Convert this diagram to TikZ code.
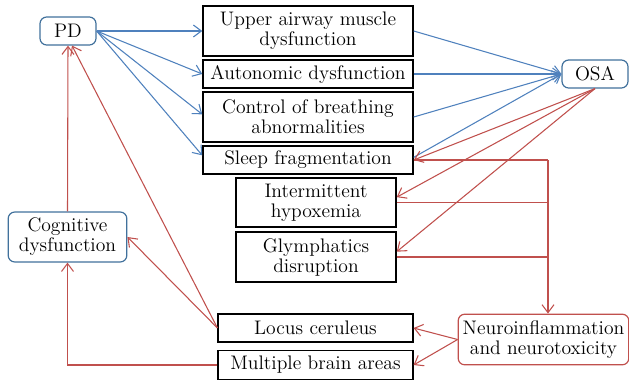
\documentclass[tikz,border=0pt]{standalone}
\usepackage{tikz}
\usetikzlibrary{arrows.meta}
\definecolor{linkblue}{HTML}{4F81BD}
\definecolor{linkred}{HTML}{C0504D}
\definecolor{edgeblue}{HTML}{41719C}

\begin{document}
\begin{tikzpicture}[
    x=0.75pt, y=-0.75pt,
    font=\fontsize{14.7}{15}\selectfont,
    box node/.style={rectangle, draw=black, line width=1.1pt, inner sep=0pt, align=center},
    round node/.style={rectangle, rounded corners=5pt, draw=edgeblue, line width=0.9pt, inner sep=0pt, align=center, fill=white},
    blue link/.style={draw=linkblue, line width=0.8pt, -{Straight Barb[length=6pt,width=9pt]}},
    red link/.style={draw=linkred, line width=0.8pt, -{Straight Barb[length=6pt,width=9pt]}},
    red line/.style={draw=linkred, line width=0.8pt}
  ]
  \useasboundingbox (0,0) rectangle (629,379);

  \node[round node, minimum width=42pt, minimum height=21pt] (pd) at (68,31) {PD};
  \node[round node, minimum width=49.5pt, minimum height=21pt] (osa) at (595,74) {OSA};
  \node[round node, minimum width=89pt, minimum height=37.5pt] (cog) at (67.5,237) {Cognitive\\dysfunction};
  \node[round node, draw=linkred, minimum width=128pt, minimum height=38pt] (neuro) at (543.5,339.5) {Neuroinflammation\\and neurotoxicity};

  \node[box node, minimum width=157.5pt, minimum height=37.5pt] (upper) at (308,31) {Upper airway muscle\\dysfunction};
  \node[box node, minimum width=157.5pt, minimum height=21pt] (auto) at (308,74) {Autonomic dysfunction};
  \node[box node, minimum width=157.5pt, minimum height=37.5pt] (ctrl) at (308,117) {Control of breathing\\abnormalities};
  \node[box node, minimum width=157.5pt, minimum height=21pt] (sleep) at (308,160) {Sleep fragmentation};
  \node[box node, minimum width=120pt, minimum height=37pt] (hypox) at (316,202.5) {Intermittent\\hypoxemia};
  \node[box node, minimum width=120pt, minimum height=37.5pt] (glymph) at (316,257) {Glymphatics\\disruption};
  \node[box node, minimum width=146pt, minimum height=21pt] (locus) at (315.5,328) {Locus ceruleus};
  \node[box node, minimum width=146pt, minimum height=21.5pt] (multi) at (315.5,365) {Multiple brain areas};

  \coordinate (trunk) at (548,160);

  \draw[blue link] (pd.east) -- (upper.west);
  \draw[blue link] (pd.east) -- (auto.west);
  \draw[blue link] (pd.east) -- ([yshift=2pt]ctrl.west);
  \draw[blue link] (pd.east) -- ([yshift=3.5pt]sleep.west);
  \draw[blue link] (upper.east) -- (osa.west);
  \draw[blue link] (auto.east) -- (osa.west);
  \draw[blue link] (ctrl.east) -- (osa.west);
  \draw[blue link] ([yshift=2pt]sleep.east) -- (osa.west);

  \draw[red link] (osa.south) -- (sleep.east);
  \draw[red link] (osa.south) -- ([yshift=4pt]hypox.east);
  \draw[red link] (osa.south) -- ([yshift=4pt]glymph.east);
  \draw[red line] (sleep.east) -- (trunk);
  \draw[red line] (hypox.east) -- (hypox.east -| trunk);
  \draw[red line] (glymph.east) -- (glymph.east -| trunk);
  \draw[red link] (trunk) -- (trunk |- neuro.north);

  \draw[red link] (neuro.west) -- (locus.east);
  \draw[red link] (neuro.west) -- (multi.east);
  \draw[red link] (locus.west) -- (cog.east);
  \draw[red link] (locus.west) -- ([xshift=3pt]pd.south);
  \draw[red link] (cog.north) -- (pd.south);
  \draw[red link] (multi.west) -| (cog.south);
\end{tikzpicture}
\end{document}
